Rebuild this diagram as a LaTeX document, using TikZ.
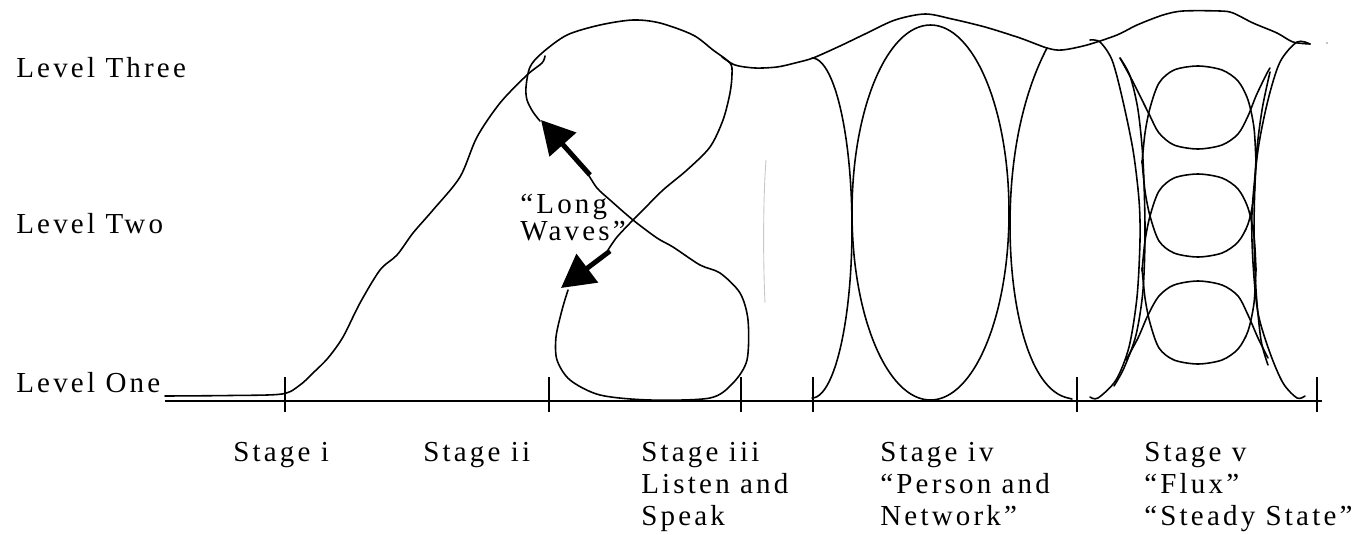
\documentclass[tikz,border=0pt]{standalone}
\usepackage{fontspec}
\setmainfont{Liberation Serif}[LetterSpace=11]
\usetikzlibrary{arrows.meta}

\begin{document}
\begin{tikzpicture}[
  x=0.02cm, y=-0.02cm,
  lvltext/.style={font=\fontsize{16.5pt}{18pt}\selectfont, inner sep=0pt, anchor=base west},
  stgtext/.style={font=\fontsize{16.5pt}{18pt}\selectfont, inner sep=0pt, anchor=base west},
  curve/.style={line width=0.9pt, line join=round, line cap=round},
  axis/.style={line width=1.1pt},
  tickmark/.style={line width=1.1pt},
  wave/.style={line width=2.8pt, -{Triangle[length=0.66cm, width=0.7cm]}},
  faint/.style={draw=black!22, line width=0.5pt}
]
  \useasboundingbox (0,0) rectangle (1365,534);

  % Levels.
  \node[lvltext] (lvl3) at (16,77) {Level Three};
  \node[lvltext] (lvl2) at (16,233) {Level Two};
  \node[lvltext] (lvl1) at (16,392) {Level One};

  % Time axis and stage boundaries.
  \coordinate (ax0) at (165,401);
  \coordinate (ax1) at (1322,401);
  \draw[axis] (ax0) -- (ax1);
  \draw[tickmark] (285,377) -- (285,412);
  \draw[tickmark] (549,377) -- (549,412);
  \draw[tickmark] (741,377) -- (741,412);
  \draw[tickmark] (813,377) -- (813,412);
  \draw[tickmark] (1077,377) -- (1077,412);
  \draw[tickmark] (1317,377) -- (1317,412);

  % Stage names.
  \node[stgtext] (stg1) at (233,461) {Stage i};
  \node[stgtext] (stg2) at (423,461) {Stage ii};
  \node[stgtext] (stg3) at (641,461) {Stage iii};
  \node[stgtext] (stg3b) at (641,493) {Listen and};
  \node[stgtext] (stg3c) at (641,525) {Speak};
  \node[stgtext] (stg4) at (880,461) {Stage iv};
  \node[stgtext] (stg4b) at (880,493) {“Person and};
  \node[stgtext] (stg4c) at (880,525) {Network”};
  \node[stgtext] (stg5) at (1144,461) {Stage v};
  \node[stgtext] (stg5b) at (1144,493) {“Flux”};
  \node[stgtext] (stg5c) at (1144,525) {“Steady State”};

  % Stages i and ii: the rise.
  \draw[curve] plot[smooth, tension=0.5] coordinates {(165,396) (230,395.5) (282,394) (300,385)
    (313,373) (328,358) (343,337) (360,303) (380,270) (397,255) (413,233) (433,210)
    (460,177) (477,137) (500,103) (527,75) (542,63) (545,56)};

  % Stage iii: the figure of eight.
  \draw[curve] plot[smooth, tension=0.5] coordinates {(540,121) (533,112) (527,100) (526,87)
    (530,67) (542,53) (567,35) (600,25) (633,20) (660,23) (693,35) (713,50) (730,63)
    (732,74) (730,93) (723,120) (710,147) (687,170) (663,190) (643,210) (633,220)
    (617,237) (608,250)};
  \draw[curve] plot[smooth, tension=0.5] coordinates {(568,290) (562,310) (556,337) (557,360)
    (570,380) (600,395) (650,400) (710,398) (733,383) (747,360) (748,320) (740,293)
    (720,273) (700,265) (673,247) (657,238) (633,220) (610,200) (597,188) (588,174)};
  \coordinate (up0) at (590,175);
  \coordinate (up1) at (541,120);
  \coordinate (dn0) at (610,251);
  \coordinate (dn1) at (561,288);
  \draw[wave] (up0) -- (up1);
  \draw[wave] (dn0) -- (dn1);
  \node[stgtext] (wav1) at (520,213) {“Long};
  \node[stgtext] (wav2) at (520,240) {Waves”};
  \coordinate (ft0) at (766,160);
  \coordinate (ft1) at (765,303);
  \draw[faint] (ft0) .. controls (763,200) and (763,260) .. (ft1);

  % Top outline over stages iv and v.
  \draw[curve] plot[smooth, tension=0.5] coordinates {(722,57) (735,65) (755,68) (777,67)
    (795,63) (813,58) (840,46) (865,34) (895,20) (925,14) (952,19) (985,27) (1020,38)
    (1047,48) (1062,50) (1087,45) (1117,35) (1137,25) (1163,15) (1183,11) (1220,11)
    (1233,13) (1253,23) (1277,33) (1293,42) (1310,44)};
  \fill (1327,43) circle[radius=0.6];

  % Stage iv: person and network.
  \draw[curve] plot[domain=-90:90, samples=50] ({812+40*cos(\x)}, {228+170*sin(\x)});
  \draw[curve] (930.5,212.5) ellipse [x radius=78.5, y radius=187.5];
  \draw[curve] (1047,48) .. controls (1025,90) and (1010,150) .. (1010,225)
    .. controls (1010,310) and (1030,390) .. (1068,398) -- (1072,399);

  % Stage v: the two walls.
  \draw[curve] plot[smooth, tension=0.5] coordinates {(1090,40) (1100,42) (1112,60) (1122,97)
    (1133,150) (1139,200) (1140,240) (1137,297) (1129,347) (1116,380) (1098,398) (1090,397)};
  \draw[curve] plot[smooth, tension=0.5] coordinates {(1120,58) (1130,76) (1138,110) (1143,160)
    (1145,230) (1143,290) (1136,335) (1124,368) (1114,386)};
  \draw[curve] plot[smooth, tension=0.5] coordinates {(1310,44) (1297,42) (1280,62) (1268,100)
    (1258,150) (1252,213) (1253,263) (1258,313) (1270,353) (1283,383) (1297,398) (1305,396)};
  \draw[curve] plot[smooth, tension=0.5] coordinates {(1270,72) (1262,110) (1256,160)
    (1254,230) (1256,290) (1261,340) (1268,365)};

  % Stage v: the three loops.
  \draw[curve] plot[smooth, tension=0.5] coordinates {(1142,163) (1145,133) (1150,108)
    (1159,83) (1174,70) (1198,66) (1222,70) (1238,81) (1248,100) (1254,128) (1256,163)};
  \draw[curve] plot[smooth, tension=0.5] coordinates {(1120,58) (1132,80) (1142,100)
    (1150,116) (1159,133) (1174,145) (1198,149) (1222,145) (1238,134) (1248,116)
    (1256,96) (1266,75) (1270,68)};

  \draw[curve] plot[smooth, tension=0.5] coordinates {(1142,271) (1145,241) (1150,216)
    (1159,191) (1174,178) (1198,174) (1222,178) (1238,189) (1248,208) (1254,236) (1256,271)};
  \draw[curve] plot[smooth, tension=0.5] coordinates {(1142,161) (1145,191) (1150,216)
    (1159,241) (1174,253) (1198,257) (1222,253) (1238,242) (1248,224) (1254,196) (1256,161)};

  \draw[curve] plot[smooth, tension=0.5] coordinates {(1126,360) (1138,338) (1148,315)
    (1159,296) (1174,285) (1198,281) (1222,285) (1238,296) (1248,315) (1258,338) (1268,358)};
  \draw[curve] plot[smooth, tension=0.5] coordinates {(1142,268) (1145,298) (1150,323)
    (1159,348) (1174,360) (1198,364) (1222,360) (1238,349) (1248,331) (1254,303) (1256,268)};
\end{tikzpicture}
\end{document}
